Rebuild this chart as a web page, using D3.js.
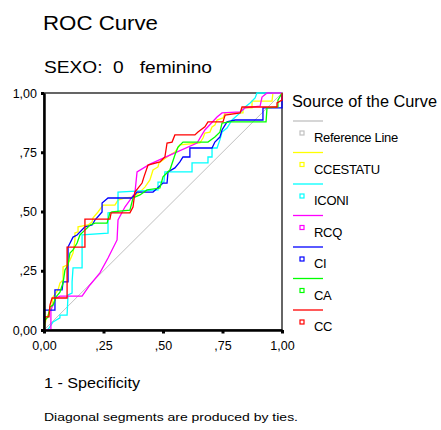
<!DOCTYPE html>
<html>
<head>
<meta charset="utf-8">
<script src="https://cdn.jsdelivr.net/npm/d3@7"></script>
<style>
  body { margin: 0; background: #fff; }
  svg { font-family: "Liberation Sans", Arial, sans-serif; }
  .pre { white-space: pre; }
</style>
</head>
<body>
<svg class="chart" width="441" height="430"></svg>
<script>
// tick values and labels
const ticks = [0, 0.25, 0.5, 0.75, 1]
const tickLabels = ['0,00', ',25', ',50', ',75', '1,00']

// curve names, legend order
const sources = ['Reference Line', 'CCESTATU', 'ICONI', 'RCQ', 'CI', 'CA', 'CC']
const colors = ['#c0c0c0', '#ffff00', '#00ffff', '#ff00ff', '#0000ff', '#00ff00', '#ff0000']

// [1 - specificity, sensitivity]
const refLine = [[0, 0], [1, 1]]
const ccestatu = [[0,0],[.008,.042],[.017,.063],[.034,.105],[.038,.139],[.059,.169],[.067,.198],[.080,.211],[.080,.266],[.097,.274],[.109,.295],[.122,.325],[.130,.380],[.130,.409],[.143,.414],[.143,.435],[.185,.443],[.202,.456],[.206,.473],[.227,.498],[.248,.527],[.298,.527],[.311,.548],[.340,.557],[.374,.561],[.403,.582],[.424,.603],[.445,.633],[.458,.675],[.479,.688],[.483,.705],[.500,.717],[.529,.738],[.550,.751],[.571,.781],[.655,.789],[.668,.810],[.676,.831],[.697,.835],[.706,.857],[.718,.865],[.727,.886],[.752,.895],[.761,.916],[.836,.916],[.836,.937],[.874,.937],[.874,.966],[.958,.966],[.962,1],[1,1]]
const iconi = [[0,0],[.013,0],[.021,.008],[.038,.034],[.067,.051],[.067,.063],[.097,.063],[.101,.148],[.118,.156],[.118,.203],[.122,.262],[.160,.262],[.160,.401],[.269,.409],[.269,.494],[.311,.498],[.311,.582],[.479,.591],[.479,.624],[.504,.624],[.508,.667],[.622,.667],[.622,.705],[.689,.705],[.689,.730],[.706,.730],[.706,.768],[.727,.768],[.739,.802],[.748,.835],[.769,.852],[.790,.886],[.824,.916],[.845,.941],[.866,.958],[.887,.979],[.895,1],[1,1]]
const rcq = [[0,0],[.029,0],[.029,.084],[.050,.135],[.067,.143],[.160,.143],[.193,.190],[.235,.241],[.269,.304],[.307,.380],[.311,.464],[.340,.519],[.382,.578],[.391,.667],[.445,.700],[.529,.738],[.643,.789],[.676,.844],[.727,.899],[.748,.916],[.824,.920],[.845,.937],[.908,.945],[.916,.983],[.937,1],[1,1]]
const ci = [[0,0],[0,.084],[.046,.084],[.046,.169],[.076,.169],[.080,.203],[.101,.203],[.101,.350],[.122,.392],[.139,.401],[.172,.435],[.202,.443],[.214,.464],[.244,.498],[.244,.536],[.269,.557],[.370,.557],[.391,.582],[.458,.582],[.500,.620],[.517,.620],[.521,.667],[.550,.684],[.571,.709],[.584,.730],[.613,.730],[.613,.768],[.706,.768],[.718,.793],[.739,.814],[.748,.844],[.769,.878],[.803,.886],[.920,.886],[.920,.937],[1,.937],[1,1]]
const ca = [[0,0],[0,.021],[.004,.042],[.017,.055],[.025,.097],[.038,.105],[.050,.139],[.067,.160],[.080,.198],[.088,.253],[.101,.274],[.109,.325],[.122,.338],[.139,.367],[.151,.401],[.164,.414],[.181,.430],[.193,.443],[.214,.451],[.265,.451],[.277,.494],[.286,.498],[.361,.506],[.374,.557],[.403,.570],[.433,.591],[.487,.599],[.500,.646],[.529,.675],[.550,.738],[.563,.772],[.584,.793],[.689,.793],[.718,.814],[.739,.835],[.748,.873],[.782,.878],[.933,.878],[.937,.937],[.983,.941],[.983,.970],[1,1]]
const cc = [[0,0],[.004,.055],[.021,.055],[.025,.105],[.034,.135],[.097,.135],[.097,.350],[.172,.350],[.172,.468],[.277,.468],[.282,.494],[.361,.494],[.374,.519],[.382,.582],[.412,.620],[.420,.646],[.437,.696],[.487,.709],[.508,.730],[.517,.789],[.538,.793],[.550,.823],[.634,.823],[.647,.835],[.676,.857],[.689,.878],[.752,.878],[.761,.907],[.824,.916],[.832,.941],[.979,.941],[.979,.958],[1,.970],[1,1]]

const curves = [refLine, ccestatu, iconi, rcq, ci, ca, cc]

const svg = d3.select('svg.chart')
const box = { left: 44, right: 282, top: 93, bottom: 330 }

const x = d3.scaleLinear().domain([0, 1]).range([box.left, box.right])
const y = d3.scaleLinear().domain([0, 1]).range([box.bottom, box.top])

// stretch text to the width it has in the picture
const fit = (sel, w) => sel.attr('textLength', w).attr('lengthAdjust', 'spacingAndGlyphs')

// titles
svg.append('text').attr('x', 43).attr('y', 30)
  .attr('font-size', 21).call(fit, 115).text('ROC Curve')
svg.append('text').attr('class', 'pre').attr('x', 44).attr('y', 73)
  .attr('font-size', 17).call(fit, 168).text('SEXO:  0   feminino')

// frame: top and right thin
svg.append('rect')
  .attr('x', box.left).attr('y', box.top)
  .attr('width', box.right - box.left).attr('height', box.bottom - box.top)
  .attr('fill', 'none').attr('stroke', '#000').attr('stroke-width', 1.2)

// curves
const line = d3.line().x(d => x(d[0])).y(d => y(d[1]))
svg.append('g').selectAll('path')
  .data(curves)
  .join('path')
  .attr('d', line)
  .attr('fill', 'none')
  .attr('stroke', (d, i) => colors[i])
  .attr('stroke-width', (d, i) => i === 0 ? 1 : 1.3)

// axes
const yAxis = d3.axisLeft(y).tickValues(ticks)
  .tickFormat((d, i) => tickLabels[i]).tickSize(0).tickPadding(7)
const xAxis = d3.axisBottom(x).tickValues(ticks)
  .tickFormat((d, i) => tickLabels[i]).tickSize(0).tickPadding(11)

const gy = svg.append('g').attr('transform', `translate(${box.left},0)`).call(yAxis)
const gx = svg.append('g').attr('transform', `translate(0,${box.bottom})`).call(xAxis)

;[gy, gx].forEach(g => {
  g.select('.domain').attr('stroke', '#000').attr('stroke-width', 2.5)
  g.selectAll('text').attr('font-size', 12.5).attr('fill', '#000')
    .attr('font-family', '"Liberation Sans", Arial, sans-serif')
})

// tick squares
gy.selectAll('.tick').append('rect')
  .attr('x', -3).attr('y', -1.5).attr('width', 3).attr('height', 3).attr('fill', '#000')
gx.selectAll('.tick').append('rect')
  .attr('x', -1.5).attr('y', 0).attr('width', 3).attr('height', 3.5).attr('fill', '#000')

// axis title and footnote
svg.append('text').attr('x', 44).attr('y', 388)
  .attr('font-size', 15).call(fit, 96).text('1 - Specificity')
svg.append('text').attr('x', 44).attr('y', 421)
  .attr('font-size', 11).call(fit, 254).text('Diagonal segments are produced by ties.')

// legend
const legend = svg.append('g').attr('transform', 'translate(292,0)')
legend.append('text').attr('x', 0).attr('y', 107)
  .attr('font-size', 16).call(fit, 145).text('Source of the Curve')

const item = legend.selectAll('g.item')
  .data(sources)
  .join('g')
  .attr('class', 'item')
  .attr('transform', (d, i) => `translate(0,${121 + i * 31.5})`)

item.append('line')
  .attr('x1', 1).attr('x2', 31).attr('y1', 0).attr('y2', 0)
  .attr('stroke', (d, i) => colors[i]).attr('stroke-width', 1.3)
item.append('rect')
  .attr('x', 8).attr('y', 10).attr('width', 4).attr('height', 4)
  .attr('fill', 'none').attr('stroke', (d, i) => colors[i]).attr('stroke-width', 1.2)
item.append('text')
  .attr('x', 22).attr('y', 21)
  .attr('font-size', 13).attr('letter-spacing', -0.3)
  .text(d => d)
</script>
</body>
</html>
